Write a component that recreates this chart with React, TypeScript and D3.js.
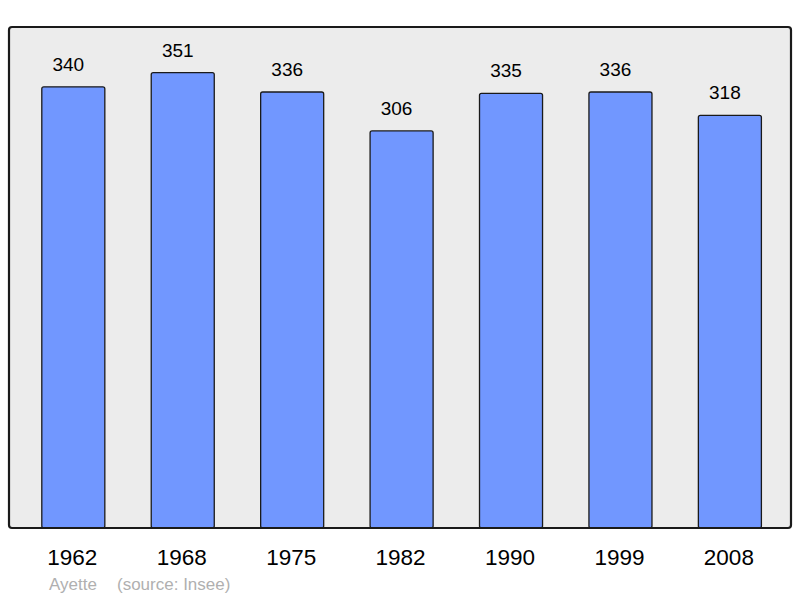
import { useEffect, useRef } from "react";
import * as d3 from "d3";

// population per census year
const years = ["1962", "1968", "1975", "1982", "1990", "1999", "2008"];
const population = [340, 351, 336, 306, 335, 336, 318];
const commune = "Ayette";
const source = "(source: Insee)";

export default function App() {
    const svgRef = useRef<SVGSVGElement>(null);

    useEffect(() => {
        const svg = d3.select(svgRef.current);
        svg.selectAll("*").remove();

        const frame = { left: 9, top: 27, right: 791, bottom: 528 };

        const xScale = d3.scaleBand()
            .domain(years)
            .range([18.6, 784.6])
            .paddingInner(0.424)
            .paddingOuter(0.212);

        const maxPop = d3.max(population) || 1;
        const yScale = d3.scaleLinear()
            .domain([0, maxPop * 1.1])
            .range([frame.bottom, frame.top]);

        // grey panel
        svg.append("rect")
            .attr("x", frame.left)
            .attr("y", frame.top)
            .attr("width", frame.right - frame.left)
            .attr("height", frame.bottom - frame.top)
            .attr("rx", 3)
            .attr("fill", "#ececec");

        const rows = years.map((y, i) => ({ year: y, value: population[i] }));

        // bars
        svg.append("g")
            .selectAll("rect")
            .data(rows)
            .join("rect")
            .attr("x", d => xScale(d.year)!)
            .attr("y", d => yScale(d.value))
            .attr("width", xScale.bandwidth())
            .attr("height", d => frame.bottom - yScale(d.value))
            .attr("rx", 2)
            .attr("fill", "#7197ff")
            .attr("stroke", "#1a1a1a")
            .attr("stroke-width", 1.3);

        // value labels above bars (sit a little left of the bar centre)
        svg.append("g")
            .selectAll("text")
            .data(rows)
            .join("text")
            .attr("x", d => xScale(d.year)! + xScale.bandwidth() / 2 - 5)
            .attr("y", d => yScale(d.value) - 16)
            .attr("text-anchor", "middle")
            .attr("font-family", "Liberation Sans, Arial, sans-serif")
            .attr("font-size", 19)
            .attr("fill", "#000")
            .text(d => d.value);

        // frame border on top
        svg.append("rect")
            .attr("x", frame.left)
            .attr("y", frame.top)
            .attr("width", frame.right - frame.left)
            .attr("height", frame.bottom - frame.top)
            .attr("rx", 3)
            .attr("fill", "none")
            .attr("stroke", "#1a1a1a")
            .attr("stroke-width", 2.2);

        // year labels
        svg.append("g")
            .selectAll("text")
            .data(years)
            .join("text")
            .attr("x", d => xScale(d)! + xScale.bandwidth() / 2 - 1)
            .attr("y", 564.5)
            .attr("text-anchor", "middle")
            .attr("font-family", "Liberation Sans, Arial, sans-serif")
            .attr("font-size", 22.5)
            .attr("fill", "#000")
            .text(d => d);

        // commune name and source
        svg.append("text")
            .attr("x", 49)
            .attr("y", 590)
            .attr("font-family", "Liberation Sans, Arial, sans-serif")
            .attr("font-size", 17)
            .attr("fill", "#b0b0b0")
            .text(commune);

        svg.append("text")
            .attr("x", 117)
            .attr("y", 590)
            .attr("font-family", "Liberation Sans, Arial, sans-serif")
            .attr("font-size", 17)
            .attr("fill", "#b0b0b0")
            .text(source);
    }, []);

    return (
        <svg
            ref={svgRef}
            width={800}
            height={598}
            style={{ position: "absolute", left: 0, top: 0, background: "#fff" }}
        />
    );
}
